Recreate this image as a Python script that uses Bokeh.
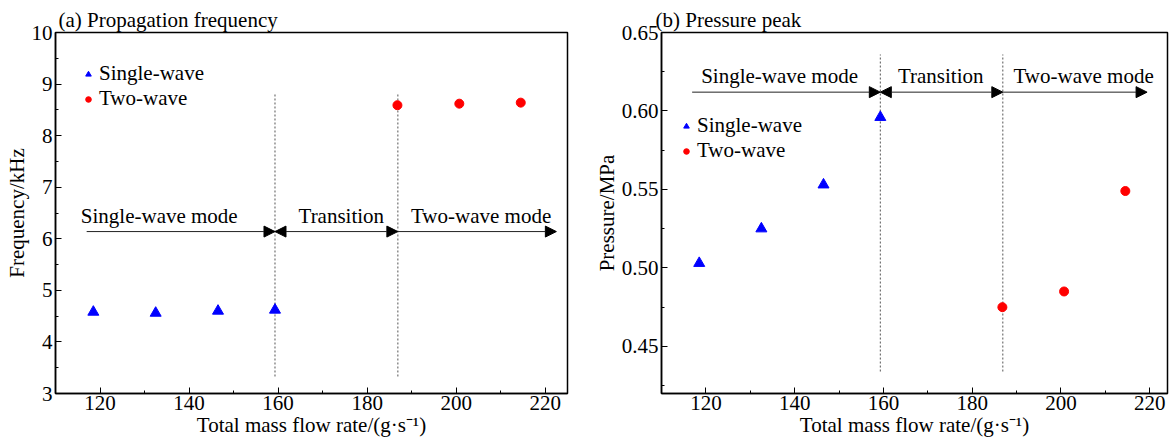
from bokeh.plotting import figure
from bokeh.layouts import row
from bokeh.models import (Range1d, SingleIntervalTicker, NumeralTickFormatter, Arrow,
                          NormalHead, Legend, LegendItem)
from bokeh.core.properties import value
from bokeh.embed import file_html
from bokeh.resources import INLINE

# ---------------- data ----------------
single_x = [118.5, 132.5, 146.5, 159.3]
two_x = [186.8, 200.7, 214.5]
freq_single = [4.58, 4.56, 4.60, 4.62]
freq_two = [8.59, 8.62, 8.64]
press_single = [0.503, 0.525, 0.553, 0.596]
press_two = [0.475, 0.485, 0.549]

boundaries = [159.3, 186.9]
mode_labels = ["Single-wave mode", "Transition", "Two-wave mode"]

a_arrow_x = [117.0, 159.3, 186.9, 222.5]
a_arrow_y = 6.14
a_label_x = [133.3, 174.2, 205.6]
a_label_y = 6.45
a_dash_y = [3.33, 8.82]

b_arrow_x = [116.9, 159.3, 186.9, 219.4]
b_arrow_y = 0.612
b_label_x = [136.6, 172.9, 205.1]
b_label_y = 0.622
b_dash_y = [0.434, 0.636]

SERIF = "'Liberation Serif', 'Times New Roman', serif"
FS = "21px"


def style(p, title, ylabel, yticker):
    p.title.text = title
    p.title.text_font = SERIF
    p.title.text_font_style = "normal"
    p.title.text_font_size = FS
    p.title.align = "left"
    p.title.vertical_align = "middle"
    p.title.text_color = "black"
    p.title.standoff = 0
    p.xgrid.visible = False
    p.ygrid.visible = False
    p.outline_line_color = "black"
    p.outline_line_width = 1.5
    p.outline_line_alpha = 1
    p.xaxis.ticker = SingleIntervalTicker(interval=20, num_minor_ticks=2)
    p.yaxis.ticker = yticker
    p.xaxis.axis_label = "Total mass flow rate/(g·s⁻¹)"
    p.yaxis.axis_label = ylabel
    for ax in (p.xaxis[0], p.yaxis[0]):
        ax.axis_line_color = "black"
        ax.axis_line_width = 1.5
        ax.major_tick_in = 6
        ax.major_tick_out = 0
        ax.minor_tick_in = 3
        ax.minor_tick_out = 0
        ax.major_tick_line_color = "black"
        ax.minor_tick_line_color = "black"
        ax.major_label_text_font = SERIF
        ax.major_label_text_font_size = FS
        ax.major_label_text_font_style = "normal"
        ax.major_label_text_color = "black"
        ax.axis_label_text_font = SERIF
        ax.axis_label_text_font_size = FS
        ax.axis_label_text_font_style = "normal"
        ax.axis_label_text_color = "black"
        ax.major_label_standoff = 3
        ax.axis_label_standoff = 0
    p.xaxis.major_label_standoff = 2


def annotate(p, arrow_x, arrow_y, label_x, label_y, dash_y):
    p.segment(x0=boundaries, x1=boundaries, y0=[dash_y[0]] * 2, y1=[dash_y[1]] * 2,
              line_color="#555555", line_dash="2 2", line_width=1)
    head = lambda: NormalHead(size=11, fill_color="black", line_color="black", line_width=1)
    p.add_layout(Arrow(x_start=arrow_x[0], y_start=arrow_y, x_end=arrow_x[1], y_end=arrow_y,
                       end=head(), line_color="#222222", line_width=1))
    p.add_layout(Arrow(x_start=arrow_x[1], y_start=arrow_y, x_end=arrow_x[2], y_end=arrow_y,
                       start=head(), end=head(), line_color="#222222", line_width=1))
    p.add_layout(Arrow(x_start=arrow_x[2], y_start=arrow_y, x_end=arrow_x[3], y_end=arrow_y,
                       end=head(), line_color="#222222", line_width=1))
    p.text(x=label_x, y=[label_y] * 3, text=mode_labels, text_font=value(SERIF),
           text_font_size=FS, text_font_style="normal", text_align="center",
           text_baseline="middle", text_color="black")


def markers(p, ys, yt, legend_loc):
    r1 = p.scatter(single_x, ys, marker="triangle", size=11, fill_color="blue", line_color="blue")
    r2 = p.scatter(two_x, yt, marker="circle", size=9, fill_color="red", line_color="red")
    leg = Legend(items=[LegendItem(label="Single-wave", renderers=[r1]),
                        LegendItem(label="Two-wave", renderers=[r2])],
                 location=legend_loc, background_fill_alpha=0, border_line_alpha=0,
                 label_text_font=SERIF, label_text_font_size=FS, label_text_color="black",
                 label_text_font_style="normal",
                 glyph_width=14, glyph_height=20, label_height=20, spacing=0,
                 label_standoff=4, padding=0, margin=0)
    p.add_layout(leg)


pa = figure(width=590, height=441, output_backend="svg", toolbar_location=None,
            x_range=Range1d(110, 225), y_range=Range1d(3, 10),
            min_border_left=55, min_border_right=23, min_border_top=32, min_border_bottom=48)
style(pa, "(a) Propagation frequency", "Frequency/kHz",
      SingleIntervalTicker(interval=1, num_minor_ticks=2))
pa.title.offset = 3
annotate(pa, a_arrow_x, a_arrow_y, a_label_x, a_label_y, a_dash_y)
markers(pa, freq_single, freq_two, (26, 282))

pb = figure(width=585, height=441, output_backend="svg", toolbar_location=None,
            x_range=Range1d(110, 224), y_range=Range1d(0.42, 0.65),
            min_border_left=71, min_border_right=8, min_border_top=32, min_border_bottom=48)
style(pb, "(b) Pressure peak", "Pressure/MPa",
      SingleIntervalTicker(interval=0.05, num_minor_ticks=2))
pb.yaxis.formatter = NumeralTickFormatter(format="0.00")
pb.title.offset = -6
annotate(pb, b_arrow_x, b_arrow_y, b_label_x, b_label_y, b_dash_y)
markers(pb, press_single, press_two, (18, 230))

layout = row(pa, pb)
open("out.html", "w").write(file_html(layout, INLINE))
